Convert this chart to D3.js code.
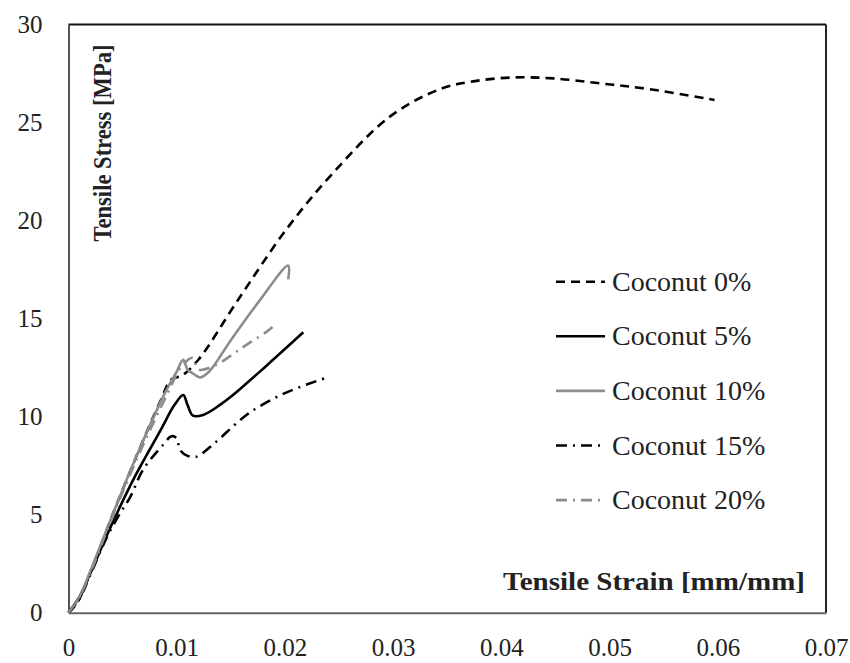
<!DOCTYPE html>
<html>
<head>
<meta charset="utf-8">
<script src="https://cdn.jsdelivr.net/npm/d3@7"></script>
<style>
  body { margin: 0; background: #fff; }
  svg text { font-family: "Liberation Serif", "Times New Roman", serif; fill: #222; }
</style>
</head>
<body>
<svg id="chart" width="850" height="663"></svg>
<script>
// strain [mm/mm], stress [MPa]
var coconut0 = [[0,0],[0.0008,0.5],[0.002,2.0],[0.004,4.9],[0.0066,8.4],[0.0085,10.8],[0.0095,11.9],
    [0.0105,12.1],[0.012,12.9],[0.0156,15.9],[0.0202,19.6],[0.0244,22.4],[0.0297,25.3],[0.0343,26.7],
    [0.0374,27.1],[0.0411,27.3],[0.0448,27.25],[0.0491,27.0],[0.0537,26.7],[0.0597,26.15]]
var coconut5 = [[0,0],[0.001,0.8],[0.002,2.0],[0.004,4.5],[0.006,6.8],[0.0085,9.3],[0.0098,10.6],
    [0.0106,11.1],[0.011,10.6],[0.0115,10.05],[0.0125,10.1],[0.014,10.6],[0.0152,11.1],[0.0183,12.6],[0.0217,14.3]]
var coconut10 = [[0,0],[0.001,0.8],[0.002,2.1],[0.004,4.9],[0.0066,8.4],[0.009,11.3],[0.0100,12.3],
    [0.0106,12.9],[0.0110,12.4],[0.0115,12.2],[0.0122,12.0],[0.0130,12.3],[0.0150,13.9],[0.0175,15.8],
    [0.0203,17.7],[0.0203,17.0]]
var coconut15 = [[0,0],[0.001,0.7],[0.002,1.9],[0.0035,3.8],[0.0048,5.1],[0.0057,5.9],[0.0069,7.3],
    [0.0088,8.6],[0.0095,9.0],[0.0100,8.9],[0.0103,8.3],[0.011,8.0],[0.0118,7.95],[0.0134,8.6],
    [0.0158,9.8],[0.017,10.3],[0.020,11.2],[0.0239,12.0]]
var coconut20 = [[0,0],[0.001,0.8],[0.002,2.0],[0.004,4.8],[0.0066,8.2],[0.009,11.0],[0.0105,12.6],
    [0.0115,13.0],[0.012,12.4],[0.0135,12.6],[0.016,13.5],[0.0189,14.6],[0.0191,14.8]]

var seriesNames = ['Coconut 0%', 'Coconut 5%', 'Coconut 10%', 'Coconut 15%', 'Coconut 20%']
var seriesData = [coconut0, coconut5, coconut10, coconut15, coconut20]
var xTicks = [0, 0.01, 0.02, 0.03, 0.04, 0.05, 0.06, 0.07]
var yTicks = [0, 5, 10, 15, 20, 25, 30]

var styles = [
    {color: '#000', dash: '9,6'},
    {color: '#000', dash: null},
    {color: '#8c8c8c', dash: null},
    {color: '#000', dash: '11,6,2,6'},
    {color: '#8c8c8c', dash: '11,6,2,6'}
]

var svg = d3.select('#chart')
var plotLeft = 68.5, plotRight = 826, plotTop = 24.5, plotBottom = 612.7

var x = d3.scaleLinear().domain([0, 0.07]).range([plotLeft, plotRight])
var y = d3.scaleLinear().domain([0, 30]).range([plotBottom, plotTop])

// frame
svg.append('line').attr('x1', plotLeft).attr('x2', plotRight).attr('y1', plotTop).attr('y2', plotTop)
    .attr('stroke', '#111').attr('stroke-width', 2)
svg.append('line').attr('x1', plotRight).attr('x2', plotRight).attr('y1', plotTop).attr('y2', plotBottom)
    .attr('stroke', '#222').attr('stroke-width', 2)

var xAxis = svg.append('g').attr('transform', 'translate(0,' + plotBottom + ')')
    .call(d3.axisBottom(x).tickValues(xTicks).tickSize(0).tickPadding(26)
        .tickFormat(function(d) { return d === 0 ? '0' : d3.format('.2f')(d) }))
var yAxis = svg.append('g').attr('transform', 'translate(' + plotLeft + ',0)')
    .call(d3.axisLeft(y).tickValues(yTicks).tickSize(0).tickPadding(26))

xAxis.select('.domain').attr('stroke', '#666').attr('stroke-width', 2)
yAxis.select('.domain').attr('stroke', '#555').attr('stroke-width', 2)
svg.selectAll('.tick text').attr('font-family', '"Liberation Serif", serif')
    .attr('font-size', 25).attr('fill', '#222')

var line = d3.line()
    .x(function(d) { return x(d[0]) })
    .y(function(d) { return y(d[1]) })
    .curve(d3.curveCatmullRom.alpha(0.5))

svg.selectAll('.curve')
    .data(seriesData)
    .enter().append('path')
    .attr('class', 'curve')
    .attr('d', line)
    .attr('fill', 'none')
    .attr('stroke', function(d, i) { return styles[i].color })
    .attr('stroke-width', 2.6)
    .attr('stroke-dasharray', function(d, i) { return styles[i].dash })

// axis titles
svg.append('text')
    .attr('x', 805).attr('y', 590)
    .attr('text-anchor', 'end')
    .attr('font-weight', 'bold').attr('font-size', 26)
    .attr('textLength', 302).attr('lengthAdjust', 'spacingAndGlyphs')
    .text('Tensile Strain [mm/mm]')

svg.append('text')
    .attr('transform', 'translate(111,143) rotate(-90)')
    .attr('text-anchor', 'middle')
    .attr('font-weight', 'bold').attr('font-size', 25)
    .attr('textLength', 197).attr('lengthAdjust', 'spacingAndGlyphs')
    .text('Tensile Stress [MPa]')

// legend
var legend = svg.selectAll('.legend')
    .data(seriesNames)
    .enter().append('g')
    .attr('class', 'legend')
    .attr('transform', function(d, i) { return 'translate(556,' + (281.7 + i * 54.6) + ')' })

legend.append('line')
    .attr('x1', 0).attr('x2', 49).attr('y1', 0).attr('y2', 0)
    .attr('stroke', function(d, i) { return styles[i].color })
    .attr('stroke-width', 2.6)
    .attr('stroke-dasharray', function(d, i) { return styles[i].dash })

legend.append('text')
    .attr('x', 56).attr('y', 9)
    .attr('font-size', 28)
    .text(function(d) { return d })
</script>
</body>
</html>
